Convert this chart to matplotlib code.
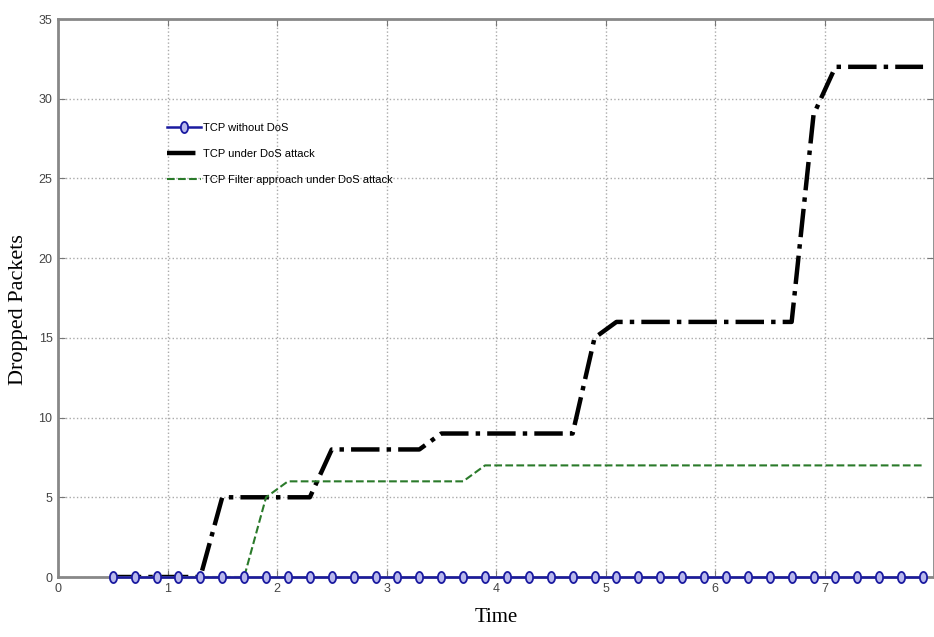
import numpy as np
import matplotlib.pyplot as plt
from matplotlib.path import Path

# sample times (every 0.2 s)
t = [round(0.5 + 0.2 * i, 1) for i in range(38)]

no_dos = [0] * len(t)

dos_t = [0.5, 1.3, 1.5, 2.3, 2.5, 3.3, 3.5, 4.7, 4.9, 5.1, 6.7, 6.9, 7.1, 7.9]
dos_v = [0, 0, 5, 5, 8, 8, 9, 9, 15, 16, 16, 29, 32, 32]

filt_t = [0.5, 1.7, 1.9, 2.1, 3.7, 3.9, 7.9]
filt_v = [0, 0, 5, 6, 6, 7, 7]

sans = ['Liberation Sans', 'DejaVu Sans']

# tall oval marker like the reference
a = np.linspace(0, 2 * np.pi, 40)
oval = Path(np.column_stack([0.65 * np.cos(a), np.sin(a)]))

fig = plt.figure(figsize=(9.34, 6.37), dpi=100)
ax = fig.add_axes([58 / 934, 60 / 637, 876 / 934, 558 / 637])

ax.plot(dos_t, dos_v, color='black', linestyle='-.', linewidth=3.2,
        label='TCP under DoS attack')
ax.plot(filt_t, filt_v, color='#2a7a2a', linestyle='--', linewidth=1.5,
        label='TCP Filter approach under DoS attack')
ax.plot(t, no_dos, color='#1a1aa0', linewidth=1.8, marker=oval, markersize=8,
        markerfacecolor='#b8b8ec', markeredgecolor='#1a1aa0', markeredgewidth=1.3,
        label='TCP without DoS', zorder=3, clip_on=False)

ax.set_xlim(0, 8)
ax.set_ylim(0, 35)
ax.set_xticks(range(0, 8))
ax.set_yticks(range(0, 36, 5))
ax.grid(True, linestyle=':', color='#aaaaaa', linewidth=1)
ax.tick_params(direction='in', labelsize=9, length=5, color='#777777',
               top=True, right=True, labelcolor='#444444', pad=4)
for lab in ax.get_xticklabels() + ax.get_yticklabels():
    lab.set_family(sans)
for s in ax.spines.values():
    s.set_color('#888888')
    s.set_linewidth(2)

ax.set_xlabel('Time', family='Liberation Serif', fontsize=15, labelpad=10)
ax.set_ylabel('Dropped Packets', family='Liberation Serif', fontsize=16)
ax.yaxis.set_label_coords(-0.034, 0.48)

h, l = ax.get_legend_handles_labels()
order = [2, 0, 1]
ax.legend([h[i] for i in order], [l[i] for i in order], frameon=False,
          loc='upper left', bbox_to_anchor=(0.1244, 0.814),
          prop={'family': sans, 'size': 8}, borderpad=0, borderaxespad=0,
          handlelength=3.1, handletextpad=0.15, labelspacing=1.45)

fig.savefig('out.png', dpi=100)
